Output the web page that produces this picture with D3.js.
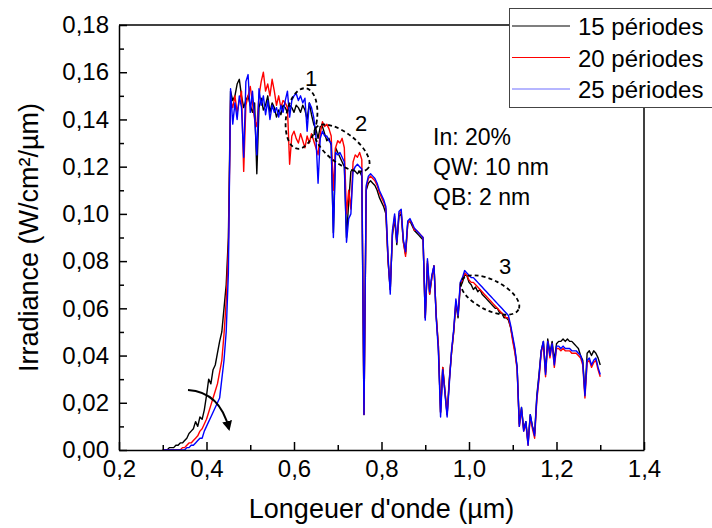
<!DOCTYPE html>
<html><head><meta charset="utf-8">
<script src="https://cdn.jsdelivr.net/npm/d3@7"></script>
<style>body{margin:0;background:#fff} text{font-family:"Liberation Sans",Arial,sans-serif;fill:#000}</style>
</head><body><svg id="c" width="712" height="528"></svg>
<script>
// wavelength grid (µm): lambdaStart + i*lambdaStep
const lambdaStart = 0.30, lambdaStep = 0.005;
const seriesNames = ["15 périodes", "20 périodes", "25 périodes"];
const seriesColors = ["#000000", "#ff0000", "#0000ff"];
const legendColors = ["#000000", "#ff0000", "#6f6fff"];

const series15 = [
0.000,0.000,0.000,0.001,0.001,0.001,0.002,0.002,0.003,0.003,
0.004,0.005,0.007,0.008,0.009,0.012,0.010,0.014,0.013,0.017,
0.023,0.030,0.028,0.034,0.036,0.041,0.046,0.050,0.060,0.070,
0.090,0.152,0.148,0.150,0.155,0.157,0.150,0.145,0.148,0.150,
0.146,0.143,0.147,0.117,0.145,0.149,0.144,0.146,0.150,0.143,
0.147,0.145,0.141,0.144,0.142,0.146,0.145,0.143,0.146,0.145,
0.143,0.146,0.145,0.143,0.146,0.144,0.140,0.147,0.142,0.138,
0.136,0.132,0.137,0.137,0.134,0.131,0.132,0.129,0.092,0.128,
0.126,0.124,0.122,0.120,0.090,0.105,0.118,0.119,0.118,0.117,
0.118,0.116,0.015,0.110,0.113,0.114,0.113,0.112,0.110,0.107,
0.105,0.103,0.100,0.080,0.068,0.091,0.098,0.087,0.099,0.100,
0.088,0.083,0.096,0.097,0.095,0.093,0.092,0.091,0.090,0.089,
0.056,0.079,0.066,0.073,0.078,0.057,0.044,0.016,0.035,0.025,
0.015,0.030,0.041,0.050,0.062,0.056,0.069,0.071,0.074,0.074,
0.071,0.070,0.068,0.069,0.067,0.068,0.066,0.065,0.064,0.063,
0.062,0.061,0.060,0.060,0.058,0.058,0.056,0.056,0.055,0.052,
0.047,0.042,0.035,0.011,0.018,0.009,0.012,0.003,0.015,0.010,
0.007,0.023,0.032,0.042,0.046,0.033,0.047,0.041,0.046,0.038,
0.045,0.046,0.046,0.047,0.046,0.047,0.046,0.046,0.045,0.044,
0.043,0.040,0.038,0.024,0.041,0.042,0.040,0.042,0.041,0.039,0.036];

const series20 = [
0.000,0.000,0.000,0.000,0.000,0.000,0.000,0.000,0.000,0.001,
0.001,0.002,0.003,0.003,0.004,0.005,0.006,0.008,0.009,0.011,
0.013,0.016,0.019,0.022,0.025,0.028,0.033,0.038,0.049,0.063,
0.085,0.148,0.145,0.150,0.143,0.148,0.152,0.118,0.146,0.150,
0.154,0.147,0.140,0.137,0.150,0.156,0.160,0.152,0.155,0.150,
0.157,0.152,0.146,0.150,0.145,0.148,0.147,0.145,0.121,0.133,
0.135,0.132,0.130,0.134,0.131,0.128,0.133,0.130,0.134,0.131,
0.128,0.125,0.134,0.139,0.137,0.138,0.136,0.133,0.110,0.128,
0.131,0.130,0.132,0.128,0.100,0.110,0.102,0.122,0.125,0.124,
0.126,0.123,0.015,0.111,0.115,0.116,0.115,0.114,0.112,0.109,
0.107,0.105,0.102,0.080,0.068,0.092,0.099,0.088,0.100,0.101,
0.088,0.082,0.096,0.097,0.096,0.093,0.093,0.092,0.091,0.090,
0.056,0.080,0.066,0.073,0.078,0.057,0.044,0.016,0.035,0.025,
0.015,0.029,0.041,0.050,0.063,0.057,0.070,0.072,0.075,0.074,
0.072,0.071,0.071,0.070,0.069,0.068,0.067,0.066,0.065,0.064,
0.063,0.062,0.061,0.060,0.059,0.058,0.057,0.056,0.056,0.052,
0.046,0.041,0.034,0.010,0.017,0.008,0.011,0.002,0.014,0.009,
0.005,0.021,0.030,0.041,0.045,0.031,0.046,0.039,0.045,0.035,
0.043,0.043,0.042,0.043,0.042,0.042,0.042,0.041,0.041,0.041,
0.040,0.039,0.036,0.022,0.037,0.038,0.035,0.037,0.038,0.034,0.031];

const series25 = [
0.000,0.000,0.000,0.000,0.000,0.000,0.000,0.000,0.000,0.000,
0.000,0.001,0.001,0.002,0.002,0.003,0.004,0.005,0.005,0.008,
0.010,0.012,0.014,0.016,0.018,0.020,0.022,0.030,0.038,0.050,
0.075,0.153,0.138,0.147,0.140,0.150,0.145,0.124,0.156,0.159,
0.143,0.152,0.141,0.125,0.153,0.146,0.150,0.142,0.148,0.140,
0.146,0.143,0.145,0.141,0.146,0.143,0.148,0.152,0.141,0.148,
0.150,0.151,0.148,0.150,0.147,0.149,0.135,0.147,0.145,0.141,
0.133,0.113,0.132,0.135,0.133,0.133,0.131,0.130,0.090,0.126,
0.125,0.126,0.124,0.122,0.088,0.098,0.100,0.118,0.120,0.121,
0.120,0.119,0.015,0.112,0.116,0.117,0.116,0.115,0.113,0.110,
0.108,0.106,0.103,0.082,0.066,0.093,0.100,0.088,0.101,0.102,
0.089,0.084,0.097,0.098,0.096,0.094,0.093,0.092,0.091,0.090,
0.055,0.081,0.067,0.074,0.078,0.056,0.042,0.014,0.034,0.024,
0.014,0.028,0.042,0.051,0.064,0.057,0.071,0.073,0.076,0.075,
0.074,0.073,0.073,0.072,0.071,0.070,0.069,0.068,0.067,0.066,
0.065,0.064,0.063,0.062,0.061,0.060,0.059,0.058,0.057,0.053,
0.048,0.043,0.035,0.010,0.018,0.008,0.012,0.002,0.015,0.010,
0.006,0.022,0.031,0.042,0.046,0.032,0.046,0.040,0.045,0.036,
0.044,0.044,0.043,0.044,0.043,0.043,0.043,0.042,0.042,0.042,
0.041,0.040,0.037,0.023,0.038,0.039,0.036,0.038,0.039,0.035,0.032];

const xMajorTicks = [0.2, 0.4, 0.6, 0.8, 1.0, 1.2, 1.4];
const xMinorTicks = [0.3, 0.5, 0.7, 0.9, 1.1, 1.3];
const yMajorTicks = [0, 0.02, 0.04, 0.06, 0.08, 0.10, 0.12, 0.14, 0.16, 0.18];
const yMinorTicks = [0.01, 0.03, 0.05, 0.07, 0.09, 0.11, 0.13, 0.15, 0.17];
const infoLines = ["In: 20%", "QW: 10 nm", "QB: 2 nm"];
const regionLabels = ["1", "2", "3"];

const svg = d3.select("#c");
const L = 119, R = 644, T = 25, B = 450;
const x = d3.scaleLinear().domain([0.2, 1.4]).range([L, R]);
const y = d3.scaleLinear().domain([0, 0.18]).range([B, T]);
const comma = f => v => d3.format(f)(v).replace(".", ",");

// data lines
const allSeries = [series15, series20, series25];
const line = d3.line().x((d, i) => x(lambdaStart + i * lambdaStep)).y(d => y(d));
allSeries.forEach((s, k) => {
  svg.append("path").datum(s).attr("d", line)
    .attr("fill", "none").attr("stroke", seriesColors[k])
    .attr("stroke-width", 1.4).attr("stroke-linejoin", "round");
});

// axes
const gx = svg.append("g").attr("transform", `translate(0,${B})`);
gx.call(d3.axisBottom(x).tickValues(xMajorTicks).tickSize(-8).tickSizeOuter(0).tickPadding(10).tickFormat(comma(".1f")));
const gxm = svg.append("g").attr("transform", `translate(0,${B})`);
gxm.call(d3.axisBottom(x).tickValues(xMinorTicks).tickSize(-5).tickSizeOuter(0).tickFormat(""));
gxm.select(".domain").remove();
const gy = svg.append("g").attr("transform", `translate(${L},0)`);
gy.call(d3.axisLeft(y).tickValues(yMajorTicks).tickSize(-8).tickSizeOuter(0).tickPadding(10).tickFormat(comma(".2f")));
const gym = svg.append("g").attr("transform", `translate(${L},0)`);
gym.call(d3.axisLeft(y).tickValues(yMinorTicks).tickSize(-5).tickSizeOuter(0).tickFormat(""));
gym.select(".domain").remove();
svg.selectAll(".domain, .tick line").attr("stroke", "#000").attr("stroke-width", 1.5);
gx.selectAll(".tick text").attr("font-size", 24).attr("font-family", "Liberation Sans, Arial, sans-serif");
gy.selectAll(".tick text").attr("font-size", 24).attr("font-family", "Liberation Sans, Arial, sans-serif");

// frame top & right
svg.append("line").attr("x1", L).attr("x2", R).attr("y1", T).attr("y2", T).attr("stroke", "#000").attr("stroke-width", 1.5);
svg.append("line").attr("x1", R).attr("x2", R).attr("y1", T).attr("y2", B).attr("stroke", "#000").attr("stroke-width", 1.5);

// axis titles
svg.append("text").attr("x", (L + R) / 2).attr("y", 518).attr("text-anchor", "middle")
  .attr("font-size", 27).text("Longeuer d'onde (µm)");
svg.append("text").attr("transform", `translate(38,${(T + B) / 2}) rotate(-90)`).attr("text-anchor", "middle")
  .attr("font-size", 27).text("Irradiance (W/cm²/µm)");

// info text
infoLines.forEach((t, i) => {
  svg.append("text").attr("x", 433).attr("y", 145 + i * 30).attr("font-size", 23).text(t);
});

// dashed ellipses
const ellipses = [
  {cx: 301.5, cy: 118.5, rx: 15.5, ry: 30.5, rot: 8, lx: 311, ly: 86},
  {cx: 342, cy: 148, rx: 33, ry: 15, rot: 38, lx: 361, ly: 131},
  {cx: 490, cy: 295, rx: 32, ry: 15, rot: 27, lx: 505, ly: 274}
];
ellipses.forEach((e, i) => {
  svg.append("ellipse").attr("cx", e.cx).attr("cy", e.cy).attr("rx", e.rx).attr("ry", e.ry)
    .attr("transform", `rotate(${e.rot},${e.cx},${e.cy})`)
    .attr("fill", "none").attr("stroke", "#000").attr("stroke-width", 1.8).attr("stroke-dasharray", "4,3");
  svg.append("text").attr("x", e.lx).attr("y", e.ly).attr("text-anchor", "middle").attr("font-size", 22).text(regionLabels[i]);
});

// curved arrow
svg.append("defs").append("marker").attr("id", "ah").attr("viewBox", "0 0 10 10").attr("refX", 8).attr("refY", 5)
  .attr("markerWidth", 5).attr("markerHeight", 5).attr("orient", "auto")
  .append("path").attr("d", "M0,0 L10,5 L0,10 z").attr("fill", "#000");
svg.append("path").attr("d", "M188,390 Q220,392 229,429").attr("fill", "none").attr("stroke", "#000")
  .attr("stroke-width", 2).attr("marker-end", "url(#ah)");

// legend
const lg = svg.append("g");
lg.append("rect").attr("x", 509.5).attr("y", 8.5).attr("width", 230).attr("height", 99)
  .attr("fill", "#fff").attr("stroke", "#444").attr("stroke-width", 1);
seriesNames.forEach((n, k) => {
  const yy = 26 + k * 31.5;
  lg.append("line").attr("x1", 512).attr("x2", 570).attr("y1", yy).attr("y2", yy)
    .attr("stroke", legendColors[k]).attr("stroke-width", 1.2);
  lg.append("text").attr("x", 578).attr("y", yy + 9).attr("font-size", 24).text(n);
});
</script></body></html>
